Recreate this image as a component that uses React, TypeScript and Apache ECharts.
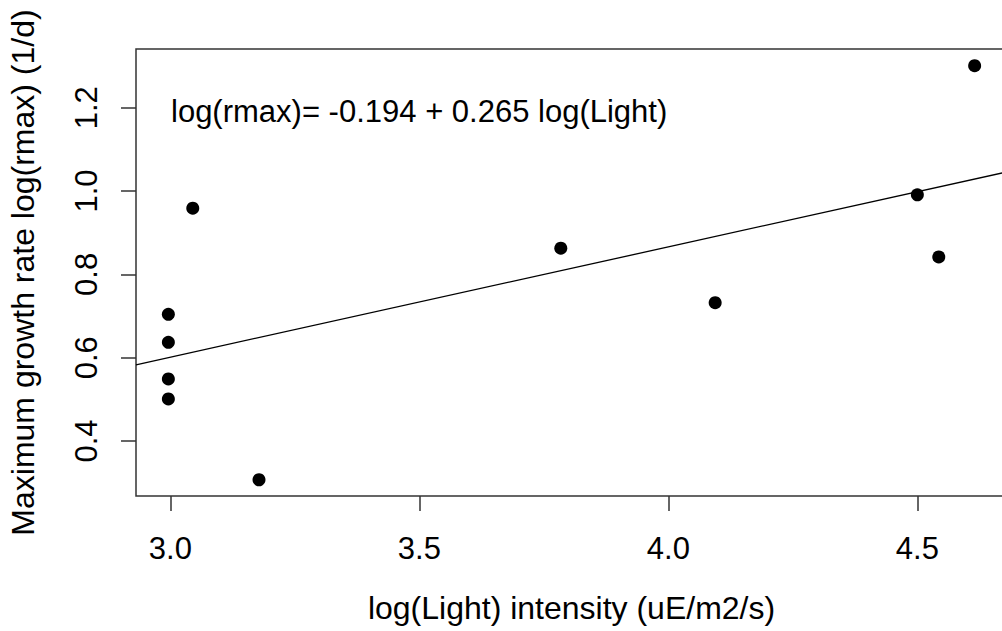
import React, { useEffect, useRef } from "react";
import * as echarts from "echarts";

const lightLog = [2.996, 2.996, 2.996, 2.996, 3.045, 3.178, 3.784, 4.094, 4.5, 4.543, 4.615];
const rmaxLog = [0.704, 0.637, 0.549, 0.501, 0.959, 0.307, 0.863, 0.732, 0.991, 0.842, 1.301];
const fitX = [2.931, 4.68];
const fitY = [0.583, 1.046];
const xTicks = [3.0, 3.5, 4.0, 4.5];
const yTicks = [0.4, 0.6, 0.8, 1.0, 1.2];
const xTitle = "log(Light) intensity (uE/m2/s)";
const yTitle = "Maximum growth rate log(rmax) (1/d)";
const equation = "log(rmax)= -0.194 + 0.265 log(Light)";

const FONT = '"Liberation Sans", Arial, Helvetica, sans-serif';

export default function App() {
  const ref = useRef<HTMLDivElement>(null);
  useEffect(() => {
    if (!ref.current) return;
    const chart = echarts.init(ref.current, undefined, { renderer: "svg" });
    const axisCommon = {
      axisLine: { show: false },
      splitLine: { show: false },
      axisTick: { show: true, inside: false, length: 15, lineStyle: { color: "#333", width: 1.5 } },
    };
    chart.setOption({
      animation: false,
      backgroundColor: "#fff",
      textStyle: { fontFamily: FONT },
      grid: {
        left: 136,
        top: 49,
        width: 871,
        height: 447,
        show: true,
        borderColor: "#333",
        borderWidth: 1.5,
        backgroundColor: "transparent",
        outerBoundsMode: "none",
        containLabel: false,
      },
      xAxis: {
        type: "value",
        min: fitX[0],
        max: fitX[1],
        ...axisCommon,
        axisTick: { ...axisCommon.axisTick, customValues: xTicks },
        axisLabel: {
          customValues: xTicks,
          formatter: (v: number) => v.toFixed(1),
          fontSize: 31,
          color: "#000",
          fontFamily: FONT,
          margin: 37,
        },
        name: xTitle,
        nameLocation: "middle",
        nameGap: 96,
        nameTextStyle: { fontSize: 32, color: "#000", fontFamily: FONT },
      },
      yAxis: {
        type: "value",
        min: 0.268,
        max: 1.341,
        ...axisCommon,
        axisTick: { ...axisCommon.axisTick, customValues: yTicks },
        axisLabel: {
          customValues: yTicks,
          formatter: (v: number) => v.toFixed(1),
          rotate: 90,
          fontSize: 31,
          color: "#000",
          fontFamily: FONT,
          margin: 34,
        },
        name: yTitle,
        nameLocation: "middle",
        nameGap: 97,
        nameTextStyle: { fontSize: 32, color: "#000", fontFamily: FONT },
      },
      graphic: [
        {
          type: "text",
          left: 171,
          top: 96,
          style: { text: equation, font: `31px ${FONT}`, fill: "#000" },
        },
      ],
      series: [
        {
          type: "line",
          data: fitX.map((x, i) => [x, fitY[i]]),
          showSymbol: false,
          symbol: "none",
          lineStyle: { color: "#000", width: 1.3 },
          silent: true,
        },
        {
          type: "scatter",
          data: lightLog.map((x, i) => [x, rmaxLog[i]]),
          symbol: "circle",
          symbolSize: 13,
          itemStyle: { color: "#000", opacity: 1 },
        },
      ],
    });
    return () => chart.dispose();
  }, []);
  return (
    <div
      ref={ref}
      style={{ position: "fixed", left: 0, top: 0, width: 1002, height: 631, background: "#fff" }}
    />
  );
}
